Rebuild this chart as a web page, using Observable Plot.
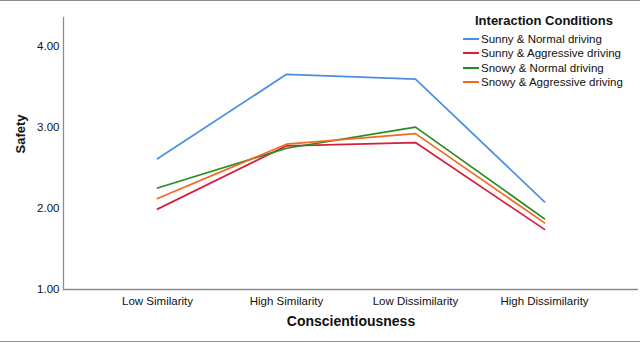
<!DOCTYPE html>
<html>
<head>
<meta charset="utf-8">
<script src="https://cdn.jsdelivr.net/npm/d3@7"></script>
<script src="https://cdn.jsdelivr.net/npm/@observablehq/plot@0.6"></script>
<style>
  html, body { margin: 0; padding: 0; background: #fff; }
  #wrap { position: relative; width: 640px; height: 342px; overflow: hidden; font-family: "Liberation Sans", Arial, sans-serif; }
  .hline { position: absolute; left: 0; width: 640px; height: 1px; background: #8c8c8c; }
  #legend { position: absolute; left: 463px; top: 12px; font-size: 11.5px; color: #111; }
  #legend .title { font-weight: bold; font-size: 13px; margin-left: 12px; height: 19.5px; line-height: 18px; }
  #legend .item { display: flex; align-items: center; height: 14.5px; line-height: 14.5px; white-space: nowrap; }
  #legend .sw { width: 16px; height: 2px; margin-right: 2px; }
</style>
</head>
<body>
<div id="wrap"></div>
<script>
const categories = ["Low Similarity", "High Similarity", "Low Dissimilarity", "High Dissimilarity"];
const seriesNames = ["Sunny & Normal driving", "Sunny & Aggressive driving", "Snowy & Normal driving", "Snowy & Aggressive driving"];
const sunnyNormal = [2.61, 3.65, 3.59, 2.08];
const sunnyAggressive = [1.99, 2.77, 2.81, 1.74];
const snowyNormal = [2.25, 2.74, 3.00, 1.87];
const snowyAggressive = [2.12, 2.79, 2.92, 1.82];
const seriesColors = ["#4a90e2", "#d81e3c", "#2a8a22", "#f5691e"];
const yTicks = [1, 2, 3, 4];

const seriesValues = [sunnyNormal, sunnyAggressive, snowyNormal, snowyAggressive];
const data = [];
seriesNames.forEach((s, i) => categories.forEach((c, j) => data.push({series: s, category: c, value: seriesValues[i][j]})));

const wrap = document.getElementById("wrap");

const chart = Plot.plot({
  width: 640,
  height: 342,
  marginLeft: 63,
  marginRight: 2,
  marginTop: 17,
  marginBottom: 53,
  style: {fontFamily: "'Liberation Sans', Arial, sans-serif", fontSize: "11.5px", color: "#111", background: "transparent"},
  x: {type: "point", domain: categories, range: [63, 638], padding: 0.72},
  y: {domain: [1, 4.35]},
  color: {domain: seriesNames, range: seriesColors},
  marks: [
    Plot.axisY({ticks: yTicks, tickFormat: d3.format(".2f"), tickSize: 0, tickPadding: 4, label: null}),
    Plot.axisX({tickSize: 0, tickPadding: 7, label: null}),
    Plot.text(["Safety"], {frameAnchor: "left", dx: -43, rotate: -90, fontWeight: "bold", fontSize: 13, fill: "#111"}),
    Plot.text(["Conscientiousness"], {frameAnchor: "bottom", dy: 36, fontWeight: "bold", fontSize: 14, fill: "#111"}),
    Plot.ruleY([1], {stroke: "#8c8c8c", strokeWidth: 1.3}),
    Plot.frame({anchor: "left", stroke: "#8c8c8c", strokeWidth: 1.3}),
    Plot.line(data, {x: "category", y: "value", z: "series", stroke: "series", strokeWidth: 1.7})
  ]
});
wrap.appendChild(chart);

const topLine = document.createElement("div"); topLine.className = "hline"; topLine.style.top = "0px"; wrap.appendChild(topLine);
const botLine = document.createElement("div"); botLine.className = "hline"; botLine.style.top = "341px"; wrap.appendChild(botLine);

const legend = document.createElement("div");
legend.id = "legend";
const lt = document.createElement("div"); lt.className = "title"; lt.textContent = "Interaction Conditions"; legend.appendChild(lt);
seriesNames.forEach((s, i) => {
  const it = document.createElement("div"); it.className = "item";
  const sw = document.createElement("span"); sw.className = "sw"; sw.style.background = seriesColors[i];
  const lb = document.createElement("span"); lb.textContent = s;
  it.appendChild(sw); it.appendChild(lb); legend.appendChild(it);
});
wrap.appendChild(legend);
</script>
</body>
</html>
